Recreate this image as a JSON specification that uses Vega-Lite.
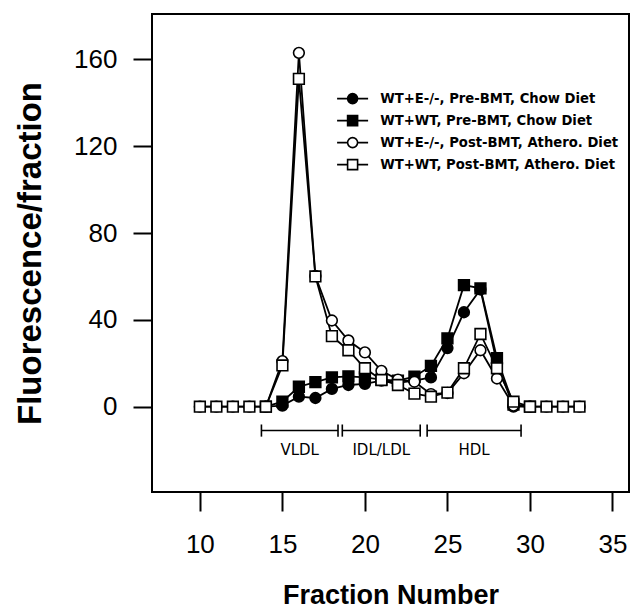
{
  "$schema": "https://vega.github.io/schema/vega-lite/v6.json",
  "width": 477,
  "height": 478,
  "autosize": {"type": "none"},
  "padding": {"left": 152, "top": 14, "right": 2, "bottom": 117},
  "background": "white",
  "config": {
    "view": {"stroke": "black", "strokeWidth": 2},
    "axis": {
      "grid": false,
      "domain": false,
      "ticks": true,
      "tickColor": "black",
      "tickWidth": 2,
      "tickSize": 19,
      "labelFont": "Liberation Sans",
      "labelFontSize": 26,
      "labelColor": "black",
      "titleFont": "Liberation Sans",
      "titleFontWeight": "bold",
      "titleColor": "black"
    }
  },
  "datasets": {
    "series": [
      {"f": 14, "v": 0, "s": "WT+E-/-, Pre-BMT, Chow Diet"},
      {"f": 15, "v": 0.5, "s": "WT+E-/-, Pre-BMT, Chow Diet"},
      {"f": 16, "v": 4.6, "s": "WT+E-/-, Pre-BMT, Chow Diet"},
      {"f": 17, "v": 4, "s": "WT+E-/-, Pre-BMT, Chow Diet"},
      {"f": 18, "v": 8.2, "s": "WT+E-/-, Pre-BMT, Chow Diet"},
      {"f": 19, "v": 10, "s": "WT+E-/-, Pre-BMT, Chow Diet"},
      {"f": 20, "v": 10.5, "s": "WT+E-/-, Pre-BMT, Chow Diet"},
      {"f": 21, "v": 12, "s": "WT+E-/-, Pre-BMT, Chow Diet"},
      {"f": 22, "v": 11, "s": "WT+E-/-, Pre-BMT, Chow Diet"},
      {"f": 23, "v": 12, "s": "WT+E-/-, Pre-BMT, Chow Diet"},
      {"f": 24, "v": 13.5, "s": "WT+E-/-, Pre-BMT, Chow Diet"},
      {"f": 25, "v": 27, "s": "WT+E-/-, Pre-BMT, Chow Diet"},
      {"f": 26, "v": 43.5, "s": "WT+E-/-, Pre-BMT, Chow Diet"},
      {"f": 27, "v": 54, "s": "WT+E-/-, Pre-BMT, Chow Diet"},
      {"f": 28, "v": 20, "s": "WT+E-/-, Pre-BMT, Chow Diet"},
      {"f": 29, "v": 0, "s": "WT+E-/-, Pre-BMT, Chow Diet"},
      {"f": 30, "v": 0, "s": "WT+E-/-, Pre-BMT, Chow Diet"},
      {"f": 14, "v": 0, "s": "WT+WT, Pre-BMT, Chow Diet"},
      {"f": 15, "v": 2.3, "s": "WT+WT, Pre-BMT, Chow Diet"},
      {"f": 16, "v": 9.2, "s": "WT+WT, Pre-BMT, Chow Diet"},
      {"f": 17, "v": 11.3, "s": "WT+WT, Pre-BMT, Chow Diet"},
      {"f": 18, "v": 13.5, "s": "WT+WT, Pre-BMT, Chow Diet"},
      {"f": 19, "v": 14, "s": "WT+WT, Pre-BMT, Chow Diet"},
      {"f": 20, "v": 13.5, "s": "WT+WT, Pre-BMT, Chow Diet"},
      {"f": 21, "v": 12.5, "s": "WT+WT, Pre-BMT, Chow Diet"},
      {"f": 22, "v": 12, "s": "WT+WT, Pre-BMT, Chow Diet"},
      {"f": 23, "v": 13.8, "s": "WT+WT, Pre-BMT, Chow Diet"},
      {"f": 24, "v": 18.8, "s": "WT+WT, Pre-BMT, Chow Diet"},
      {"f": 25, "v": 31.5, "s": "WT+WT, Pre-BMT, Chow Diet"},
      {"f": 26, "v": 56, "s": "WT+WT, Pre-BMT, Chow Diet"},
      {"f": 27, "v": 54.5, "s": "WT+WT, Pre-BMT, Chow Diet"},
      {"f": 28, "v": 22.3, "s": "WT+WT, Pre-BMT, Chow Diet"},
      {"f": 29, "v": 1, "s": "WT+WT, Pre-BMT, Chow Diet"},
      {"f": 30, "v": 0, "s": "WT+WT, Pre-BMT, Chow Diet"},
      {"f": 10, "v": 0, "s": "WT+E-/-, Post-BMT, Athero. Diet"},
      {"f": 11, "v": 0, "s": "WT+E-/-, Post-BMT, Athero. Diet"},
      {"f": 12, "v": 0, "s": "WT+E-/-, Post-BMT, Athero. Diet"},
      {"f": 13, "v": 0, "s": "WT+E-/-, Post-BMT, Athero. Diet"},
      {"f": 14, "v": 0, "s": "WT+E-/-, Post-BMT, Athero. Diet"},
      {"f": 15, "v": 21, "s": "WT+E-/-, Post-BMT, Athero. Diet"},
      {"f": 16, "v": 163, "s": "WT+E-/-, Post-BMT, Athero. Diet"},
      {"f": 17, "v": 60.2, "s": "WT+E-/-, Post-BMT, Athero. Diet"},
      {"f": 18, "v": 39.7, "s": "WT+E-/-, Post-BMT, Athero. Diet"},
      {"f": 19, "v": 30.5, "s": "WT+E-/-, Post-BMT, Athero. Diet"},
      {"f": 20, "v": 25, "s": "WT+E-/-, Post-BMT, Athero. Diet"},
      {"f": 21, "v": 16.5, "s": "WT+E-/-, Post-BMT, Athero. Diet"},
      {"f": 22, "v": 12.5, "s": "WT+E-/-, Post-BMT, Athero. Diet"},
      {"f": 23, "v": 11.5, "s": "WT+E-/-, Post-BMT, Athero. Diet"},
      {"f": 24, "v": 5.8, "s": "WT+E-/-, Post-BMT, Athero. Diet"},
      {"f": 25, "v": 6.3, "s": "WT+E-/-, Post-BMT, Athero. Diet"},
      {"f": 26, "v": 15.4, "s": "WT+E-/-, Post-BMT, Athero. Diet"},
      {"f": 27, "v": 26, "s": "WT+E-/-, Post-BMT, Athero. Diet"},
      {"f": 28, "v": 13, "s": "WT+E-/-, Post-BMT, Athero. Diet"},
      {"f": 29, "v": 0.5, "s": "WT+E-/-, Post-BMT, Athero. Diet"},
      {"f": 30, "v": 0, "s": "WT+E-/-, Post-BMT, Athero. Diet"},
      {"f": 31, "v": 0, "s": "WT+E-/-, Post-BMT, Athero. Diet"},
      {"f": 32, "v": 0, "s": "WT+E-/-, Post-BMT, Athero. Diet"},
      {"f": 33, "v": 0, "s": "WT+E-/-, Post-BMT, Athero. Diet"},
      {"f": 10, "v": 0, "s": "WT+WT, Post-BMT, Athero. Diet"},
      {"f": 11, "v": 0, "s": "WT+WT, Post-BMT, Athero. Diet"},
      {"f": 12, "v": 0, "s": "WT+WT, Post-BMT, Athero. Diet"},
      {"f": 13, "v": 0, "s": "WT+WT, Post-BMT, Athero. Diet"},
      {"f": 14, "v": 0, "s": "WT+WT, Post-BMT, Athero. Diet"},
      {"f": 15, "v": 19, "s": "WT+WT, Post-BMT, Athero. Diet"},
      {"f": 16, "v": 151, "s": "WT+WT, Post-BMT, Athero. Diet"},
      {"f": 17, "v": 60, "s": "WT+WT, Post-BMT, Athero. Diet"},
      {"f": 18, "v": 32.5, "s": "WT+WT, Post-BMT, Athero. Diet"},
      {"f": 19, "v": 26, "s": "WT+WT, Post-BMT, Athero. Diet"},
      {"f": 20, "v": 17.7, "s": "WT+WT, Post-BMT, Athero. Diet"},
      {"f": 21, "v": 12.3, "s": "WT+WT, Post-BMT, Athero. Diet"},
      {"f": 22, "v": 10, "s": "WT+WT, Post-BMT, Athero. Diet"},
      {"f": 23, "v": 6, "s": "WT+WT, Post-BMT, Athero. Diet"},
      {"f": 24, "v": 4.6, "s": "WT+WT, Post-BMT, Athero. Diet"},
      {"f": 25, "v": 6.5, "s": "WT+WT, Post-BMT, Athero. Diet"},
      {"f": 26, "v": 17.7, "s": "WT+WT, Post-BMT, Athero. Diet"},
      {"f": 27, "v": 33.5, "s": "WT+WT, Post-BMT, Athero. Diet"},
      {"f": 28, "v": 17.7, "s": "WT+WT, Post-BMT, Athero. Diet"},
      {"f": 29, "v": 2.3, "s": "WT+WT, Post-BMT, Athero. Diet"},
      {"f": 30, "v": 0, "s": "WT+WT, Post-BMT, Athero. Diet"},
      {"f": 31, "v": 0, "s": "WT+WT, Post-BMT, Athero. Diet"},
      {"f": 32, "v": 0, "s": "WT+WT, Post-BMT, Athero. Diet"},
      {"f": 33, "v": 0, "s": "WT+WT, Post-BMT, Athero. Diet"}
    ],
    "bands": [
      {"a": 13.73, "b": 18.37, "name": "VLDL"},
      {"a": 18.63, "b": 23.35, "name": "IDL/LDL"},
      {"a": 23.77, "b": 29.46, "name": "HDL"}
    ]
  },
  "layer": [
    {
      "data": {"name": "series"},
      "mark": {"type": "line", "color": "black", "strokeWidth": 1.8},
      "encoding": {
        "x": {
          "field": "f", "type": "quantitative",
          "scale": {"domain": [7.1, 36], "nice": false, "zero": false},
          "axis": {"values": [10, 15, 20, 25, 30, 35], "title": "Fraction Number", "titleFontSize": 27, "labelPadding": 20, "titlePadding": 25}
        },
        "y": {
          "field": "v", "type": "quantitative",
          "scale": {"domain": [-39.3, 180.9], "nice": false, "zero": false},
          "axis": {"values": [0, 40, 80, 120, 160], "title": "Fluorescence/fraction", "titleFontSize": 33, "labelPadding": 16, "titlePadding": 26}
        },
        "detail": {"field": "s"}
      }
    },
    {
      "data": {"name": "series"},
      "mark": {"type": "point", "filled": true, "stroke": "black", "strokeWidth": 1.6, "size": 115, "opacity": 1},
      "encoding": {
        "x": {"field": "f", "type": "quantitative"},
        "y": {"field": "v", "type": "quantitative"},
        "shape": {
          "field": "s", "type": "nominal", "legend": null,
          "scale": {
            "domain": ["WT+E-/-, Pre-BMT, Chow Diet", "WT+WT, Pre-BMT, Chow Diet", "WT+E-/-, Post-BMT, Athero. Diet", "WT+WT, Post-BMT, Athero. Diet"],
            "range": ["circle", "square", "circle", "square"]
          }
        },
        "fill": {
          "field": "s", "type": "nominal", "legend": null,
          "scale": {
            "domain": ["WT+E-/-, Pre-BMT, Chow Diet", "WT+WT, Pre-BMT, Chow Diet", "WT+E-/-, Post-BMT, Athero. Diet", "WT+WT, Post-BMT, Athero. Diet"],
            "range": ["black", "black", "white", "white"]
          }
        }
      }
    },
    {
      "data": {"name": "series"},
      "mark": {"type": "point", "filled": true, "stroke": "black", "strokeWidth": 1.6, "size": 100, "opacity": 0},
      "encoding": {
        "x": {"field": "f", "type": "quantitative"},
        "y": {"field": "v", "type": "quantitative"},
        "shape": {
          "field": "s", "type": "nominal",
          "scale": {
            "domain": ["WT+E-/-, Pre-BMT, Chow Diet", "WT+WT, Pre-BMT, Chow Diet", "WT+E-/-, Post-BMT, Athero. Diet", "WT+WT, Post-BMT, Athero. Diet"],
            "range": [
              "M-3.1,0H-1M1,0H3.1M-1,0A1,1 0 1,1 1,0A1,1 0 1,1 -1,0Z",
              "M-3.1,0H-1M1,0H3.1M-1,-1H1V1H-1Z",
              "M-3.1,0H-1M1,0H3.1M-1,0A1,1 0 1,1 1,0A1,1 0 1,1 -1,0Z",
              "M-3.1,0H-1M1,0H3.1M-1,-1H1V1H-1Z"
            ]
          },
          "legend": {
            "title": null, "orient": "none", "legendX": 194, "legendY": 78,
            "padding": 0, "symbolSize": 100, "symbolStrokeColor": "black", "symbolStrokeWidth": 1.6,
            "symbolOpacity": 1, "labelFont": "DejaVu Sans", "labelFontSize": 13.2, "labelFontWeight": "bold",
            "labelColor": "black", "labelOffset": 21, "rowPadding": 5, "labelLimit": 400,
            "encode": {"symbols": {"update": {"opacity": {"value": 1}, "fillOpacity": {"value": 1}, "strokeOpacity": {"value": 1}, "stroke": {"value": "black"}, "strokeWidth": {"value": 1.6}}}}
          }
        },
        "fill": {
          "field": "s", "type": "nominal",
          "scale": {
            "domain": ["WT+E-/-, Pre-BMT, Chow Diet", "WT+WT, Pre-BMT, Chow Diet", "WT+E-/-, Post-BMT, Athero. Diet", "WT+WT, Post-BMT, Athero. Diet"],
            "range": ["black", "black", "white", "white"]
          },
          "legend": {
            "title": null, "orient": "none", "legendX": 194, "legendY": 78,
            "padding": 0, "symbolSize": 100, "symbolStrokeColor": "black", "symbolStrokeWidth": 1.6,
            "symbolOpacity": 1, "labelFont": "DejaVu Sans", "labelFontSize": 13.2, "labelFontWeight": "bold",
            "labelColor": "black", "labelOffset": 21, "rowPadding": 5, "labelLimit": 400,
            "encode": {"symbols": {"update": {"opacity": {"value": 1}, "fillOpacity": {"value": 1}, "strokeOpacity": {"value": 1}, "stroke": {"value": "black"}, "strokeWidth": {"value": 1.6}}}}
          }
        }
      }
    },
    {
      "data": {"name": "bands"},
      "mark": {"type": "rule", "color": "black", "strokeWidth": 1.6},
      "encoding": {
        "x": {"field": "a", "type": "quantitative"},
        "x2": {"field": "b"},
        "y": {"datum": -11}
      }
    },
    {
      "data": {"name": "bands"},
      "transform": [{"fold": ["a", "b"], "as": ["end", "pos"]}],
      "mark": {"type": "rule", "color": "black", "strokeWidth": 1.6},
      "encoding": {
        "x": {"field": "pos", "type": "quantitative"},
        "y": {"datum": -8.2},
        "y2": {"datum": -13.8}
      }
    },
    {
      "data": {"name": "bands"},
      "transform": [{"calculate": "(datum.a + datum.b) / 2", "as": "mid"}],
      "mark": {"type": "text", "font": "DejaVu Sans", "fontSize": 15, "color": "black", "baseline": "middle", "align": "center"},
      "encoding": {
        "x": {"field": "mid", "type": "quantitative"},
        "y": {"datum": -20},
        "text": {"field": "name"}
      }
    }
  ],
  "resolve": {"scale": {"shape": "independent", "fill": "independent"}}
}
